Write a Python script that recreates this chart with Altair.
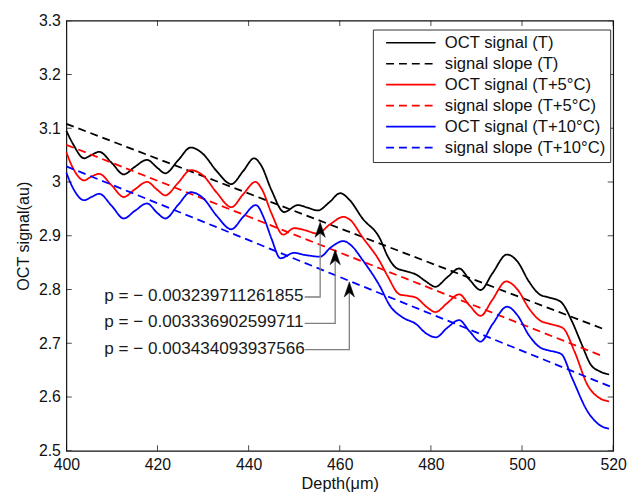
import altair as alt
import pandas as pd

# ---------------- data ----------------
depth_T = [400.0, 401.5, 403.9, 405.5, 407.2, 410.0, 412.6, 415.0, 417.7, 420.0, 421.7,
           424.5, 427.3, 430.0, 433.0, 436.2, 438.8, 441.2, 442.8, 445.0, 447.8, 450.8,
           453.0, 455.2, 457.7, 460.1, 462.2, 465.0, 468.8, 470.5, 472.4, 474.5, 476.7,
           478.9, 481.0, 483.5, 486.2, 488.5, 490.9, 493.5, 496.7, 499.0, 501.5, 504.0,
           506.0, 508.5, 511.0, 513.0, 515.1, 517.0, 519.1]
signal_T = [3.095, 3.070, 3.044, 3.050, 3.056, 3.035, 3.014, 3.028, 3.041, 3.026, 3.016,
            3.040, 3.064, 3.052, 3.020, 2.996, 3.020, 3.044, 3.030, 2.985, 2.944, 2.957,
            2.952, 2.947, 2.962, 2.979, 2.966, 2.932, 2.895, 2.862, 2.840, 2.834, 2.828,
            2.815, 2.805, 2.822, 2.839, 2.818, 2.799, 2.830, 2.865, 2.852, 2.815, 2.790,
            2.785, 2.777, 2.740, 2.700, 2.660, 2.648, 2.642]

depth_T5 = [400.0, 401.5, 403.9, 405.5, 407.2, 410.0, 412.6, 415.0, 417.7, 420.0, 421.7,
            424.5, 427.3, 430.0, 433.0, 436.2, 438.8, 441.5, 443.0, 445.0, 447.6, 450.0,
            452.5, 455.0, 458.0, 460.8, 462.2, 465.0, 468.8, 470.5, 473.1, 475.0, 476.7,
            479.0, 481.0, 483.5, 486.2, 488.5, 490.9, 493.5, 496.5, 499.0, 501.5, 504.0,
            506.1, 509.0, 511.5, 514.4, 517.0, 519.1]
signal_T5 = [3.055, 3.025, 3.003, 3.010, 3.015, 2.993, 2.972, 2.986, 3.000, 2.985, 2.975,
             2.998, 3.022, 3.012, 2.980, 2.953, 2.977, 3.000, 2.985, 2.942, 2.902, 2.914,
             2.910, 2.904, 2.922, 2.935, 2.930, 2.897, 2.852, 2.825, 2.791, 2.788, 2.785,
             2.768, 2.758, 2.774, 2.791, 2.770, 2.751, 2.781, 2.815, 2.800, 2.765, 2.742,
             2.736, 2.728, 2.685, 2.622, 2.598, 2.592]

depth_T10 = [400.0, 401.5, 403.9, 405.5, 407.2, 410.0, 412.6, 415.0, 417.7, 420.0, 421.7,
             424.5, 427.3, 430.0, 433.0, 436.2, 438.8, 441.6, 443.5, 445.0, 447.0, 449.9,
             452.5, 455.7, 458.0, 460.8, 462.5, 465.0, 468.8, 471.0, 473.8, 476.7, 479.0,
             481.1, 483.5, 486.2, 488.5, 490.9, 493.5, 496.7, 499.0, 501.5, 504.0, 505.7,
             508.6, 511.0, 514.4, 517.0, 519.1]
signal_T10 = [3.017, 2.988, 2.966, 2.972, 2.978, 2.955, 2.932, 2.946, 2.960, 2.942, 2.932,
              2.957, 2.981, 2.970, 2.937, 2.912, 2.935, 2.957, 2.930, 2.895, 2.858, 2.868,
              2.864, 2.861, 2.878, 2.890, 2.882, 2.855, 2.806, 2.770, 2.748, 2.736, 2.718,
              2.711, 2.728, 2.743, 2.722, 2.703, 2.735, 2.768, 2.752, 2.715, 2.692, 2.687,
              2.680, 2.635, 2.573, 2.548, 2.541]

slope_depth_T = [400.0, 518.0]
slope_value_T = [3.108, 2.726]
slope_depth_T5 = [400.0, 518.0]
slope_value_T5 = [3.069, 2.675]
slope_depth_T10 = [400.0, 519.5]
slope_value_T10 = [3.029, 2.619]

series_names = ["OCT signal (T)", "signal slope (T)",
                "OCT signal (T+5°C)", "signal slope (T+5°C)",
                "OCT signal (T+10°C)", "signal slope (T+10°C)"]
series_colors = ["#000000", "#000000", "#ff0000", "#ff0000", "#0000ff", "#0000ff"]
series_dashes = [[1, 0], [8, 5], [1, 0], [8, 5], [1, 0], [8, 5]]

p_labels = ["p = \u2212 0.003239711261855",
            "p = \u2212 0.003336902599711",
            "p = \u2212 0.003434093937566"]
label_depth = [408.3, 408.3, 408.3]
label_value = [2.788, 2.739, 2.690]
connector_start = [452.3, 452.3, 452.3]
connector_value = [2.786, 2.737, 2.688]
arrow_depth = [455.7, 459.0, 462.1]
arrow_tip = [2.925, 2.874, 2.814]

x_ticks = [400, 420, 440, 460, 480, 500, 520]
y_ticks = [2.5, 2.6, 2.7, 2.8, 2.9, 3.0, 3.1, 3.2, 3.3]

# ---------------- tables ----------------
rows = []
for name, dx, vy in [
    (series_names[0], depth_T, signal_T),
    (series_names[1], slope_depth_T, slope_value_T),
    (series_names[2], depth_T5, signal_T5),
    (series_names[3], slope_depth_T5, slope_value_T5),
    (series_names[4], depth_T10, signal_T10),
    (series_names[5], slope_depth_T10, slope_value_T10),
]:
    for a, b in zip(dx, vy):
        rows.append({"series": name, "x": a, "y": b})
lines_df = pd.DataFrame(rows)

labels_df = pd.DataFrame({"x": label_depth, "y": label_value, "text": p_labels})

conn_rows = []
for i in range(3):
    conn_rows.append({"k": i, "o": 0, "x": connector_start[i], "y": connector_value[i]})
    conn_rows.append({"k": i, "o": 1, "x": arrow_depth[i], "y": connector_value[i]})
    conn_rows.append({"k": i, "o": 2, "x": arrow_depth[i], "y": arrow_tip[i] - 0.012})
conn_df = pd.DataFrame(conn_rows)
heads_df = pd.DataFrame({"x": arrow_depth, "y": arrow_tip})
xt_df = pd.DataFrame({"x": x_ticks})
yt_df = pd.DataFrame({"y": y_ticks})

W, H = 553, 435
FONT = "Liberation Sans"

x_scale = alt.Scale(domain=[400, 520], nice=False, zero=False)
y_scale = alt.Scale(domain=[2.5, 3.3], nice=False, zero=False)
x_axis = alt.Axis(values=x_ticks, format="d", title="Depth(\u03bcm)", grid=False, ticks=False,
                  domain=False, labelFontSize=16, labelFont=FONT, labelColor="#111111",
                  labelPadding=5.5, titleFont=FONT, titleFontSize=16.5, titleFontWeight="normal",
                  titleColor="#111111", titlePadding=4, labelFlush=False)
y_axis = alt.Axis(values=y_ticks, format=".2~f", title="OCT signal(au)", grid=False, ticks=False,
                  domain=False, labelFontSize=16, labelFont=FONT, labelColor="#111111",
                  labelPadding=6, titleFont=FONT, titleFontSize=16.3, titleFontWeight="normal",
                  titleColor="#111111", titlePadding=7, labelFlush=False)
X = alt.X("x:Q", scale=x_scale, axis=x_axis)
Y = alt.Y("y:Q", scale=y_scale, axis=y_axis)

legend = alt.Legend(orient="none", legendX=310, legendY=9, title=None, fillColor="white",
                    strokeColor="#333333", padding=5, symbolType="M0,0H10", symbolSize=100,
                    symbolStrokeWidth=1.7, labelFontSize=16.8, labelFont=FONT,
                    labelColor="#111111", rowPadding=3.2, labelOffset=51, labelLimit=400)

lines = alt.Chart(lines_df).mark_line(strokeWidth=1.8, interpolate="monotone").encode(
    x=X, y=Y,
    color=alt.Color("series:N", scale=alt.Scale(domain=series_names, range=series_colors),
                    legend=legend),
    strokeDash=alt.StrokeDash("series:N", scale=alt.Scale(domain=series_names, range=series_dashes),
                              legend=legend),
    order=alt.Order("x:Q"),
)

connectors = alt.Chart(conn_df).mark_line(color="#7f7f7f", strokeWidth=1.3).encode(
    x=X, y=Y, detail="k:N", order="o:Q")

heads = alt.Chart(heads_df).mark_point(
    shape="M0,0L0.65,1.9L0,1.35L-0.65,1.9Z", size=256, filled=True, fill="black",
    stroke="black", strokeWidth=0.5, opacity=1).encode(x=X, y=Y)

texts = alt.Chart(labels_df).mark_text(align="left", baseline="middle", font=FONT,
                                       fontSize=17.3, color="#1a1a1a").encode(
    x=X, y=Y, text="text:N")

xt_top = alt.Chart(xt_df).mark_tick(orient="vertical", size=11, thickness=1, color="black",
                                    clip=True).encode(x=X, y=alt.value(0))
xt_bot = alt.Chart(xt_df).mark_tick(orient="vertical", size=11, thickness=1, color="black",
                                    clip=True).encode(x=X, y=alt.value(H))
yt_left = alt.Chart(yt_df).mark_tick(orient="horizontal", size=11, thickness=1, color="black",
                                     clip=True).encode(y=Y, x=alt.value(0))
yt_right = alt.Chart(yt_df).mark_tick(orient="horizontal", size=11, thickness=1, color="black",
                                      clip=True).encode(y=Y, x=alt.value(W))

chart = alt.layer(lines, connectors, heads, texts, xt_top, xt_bot, yt_left, yt_right).properties(
    width=W, height=H,
    autosize=alt.AutoSizeParams(type="none"),
    padding={"left": 59, "top": 10, "right": 14, "bottom": 46},
    background="white",
).configure_view(stroke="#111111", strokeWidth=1.2)

chart.save("out.html", embed_options={"renderer": "svg", "actions": False})
